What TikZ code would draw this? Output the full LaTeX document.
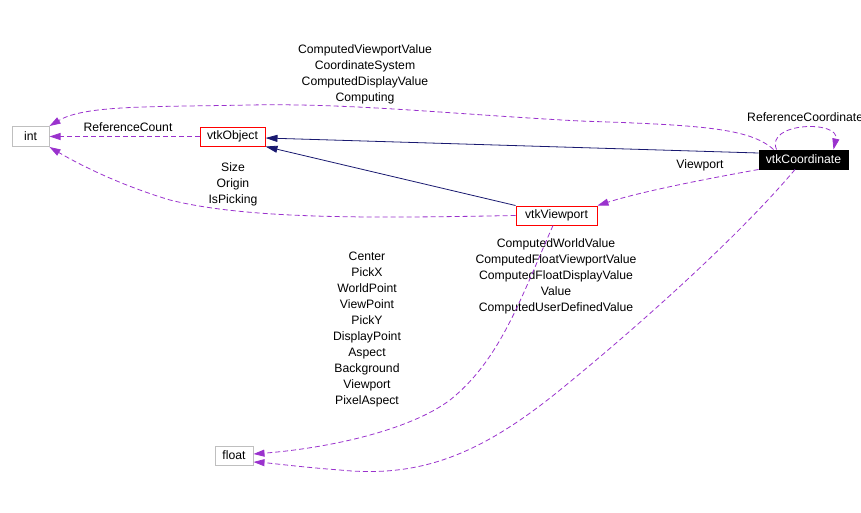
\documentclass[tikz,border=0pt]{standalone}
\usepackage{fontspec}
\setmainfont{Liberation Sans}
\usetikzlibrary{arrows.meta}
\definecolor{dep}{HTML}{9A32CD}
\definecolor{inh}{HTML}{191970}
\definecolor{grayb}{HTML}{BFBFBF}
\tikzset{
  box/.style={draw, line width=1pt, inner sep=0pt, font=\fontsize{12.2}{16}\selectfont},
  plainbox/.style={box, draw=grayb},
  classbox/.style={box, draw=red},
  mainbox/.style={box, draw=black, fill=black, text=white},
  lbl/.style={align=center, inner sep=0pt, font=\fontsize{12.2}{16}\selectfont},
  depline/.style={draw=dep, line width=0.8pt, dash pattern=on 5pt off 3pt, -{Triangle[length=11pt,width=7pt]}, fill=none},
  inhline/.style={draw=inh, line width=0.8pt, -{Triangle[length=12pt,width=7pt]}},
}
\begin{document}
\begin{tikzpicture}[x=1pt,y=-1pt]
\useasboundingbox (0,0) rectangle (861,512);
% nodes
\node[plainbox, minimum width=37pt, minimum height=20pt] (int) at (30.5,136.5) {int};
\node[classbox, minimum width=65pt, minimum height=19pt] (obj) at (232.5,136.5) {vtkObject};
\node[mainbox, minimum width=89pt, minimum height=19pt] (coord) at (803.5,159.5) {vtkCoordinate};
\node[classbox, minimum width=81pt, minimum height=19pt] (vp) at (556.5,215.5) {vtkViewport};
\node[plainbox, minimum width=38pt, minimum height=19pt] (float) at (234,455.5) {float};
% labels
\node[lbl] (l1) at (365,74) {ComputedViewportValue\\CoordinateSystem\\ComputedDisplayValue\\Computing};
\node[lbl] (l2) at (128,127) {ReferenceCount};
\node[lbl] (l3) at (233,184) {Size\\Origin\\IsPicking};
\node[lbl] (l4) at (700,165) {Viewport};
\node[lbl, anchor=west] (l5) at (747,117) {ReferenceCoordinate};
\node[lbl] (l6) at (367,329) {Center\\PickX\\WorldPoint\\ViewPoint\\PickY\\DisplayPoint\\Aspect\\Background\\Viewport\\PixelAspect};
\node[lbl] (l7) at (556,276) {ComputedWorldValue\\ComputedFloatViewportValue\\ComputedFloatDisplayValue\\Value\\ComputedUserDefinedValue};
% inheritance
\draw[inhline] ([yshift=6.5pt]coord.west) -- ([yshift=-1.5pt]obj.east);
\draw[inhline] (vp.north west) -- (obj.south east);
% dependencies
\draw[depline] (obj.west) -- (int.east);
\draw[depline] ([xshift=-30pt]coord.north) .. controls (750,128) and (700,125) .. (580,121)
   .. controls (450,114) and (350,103) .. (250,105)
   .. controls (150,107) and (85,105) .. (int.north east);
\draw[depline] (vp.west) .. controls (380,218) and (250,220) .. (170,200)
   .. controls (120,185) and (80,165) .. (int.south east);
\draw[depline] (coord.south west) .. controls (700,180) and (640,192) .. (vp.north east);
\draw[depline] ([xshift=-27pt]coord.north) .. controls (765,122) and (840,120) .. ([xshift=30pt]coord.north);
\draw[depline] ([xshift=-3.5pt]vp.south) .. controls (520,300) and (500,360) .. (450,400)
   .. controls (410,430) and (330,448) .. ([yshift=1.5pt]float.east);
\draw[depline] ([xshift=-8.5pt]coord.south) .. controls (740,235) and (640,325) .. (560,390)
   .. controls (480,455) and (420,478) .. (340,470)
   .. controls (300,467) and (270,463) .. ([yshift=-6.5pt]float.east);
\end{tikzpicture}
\end{document}
